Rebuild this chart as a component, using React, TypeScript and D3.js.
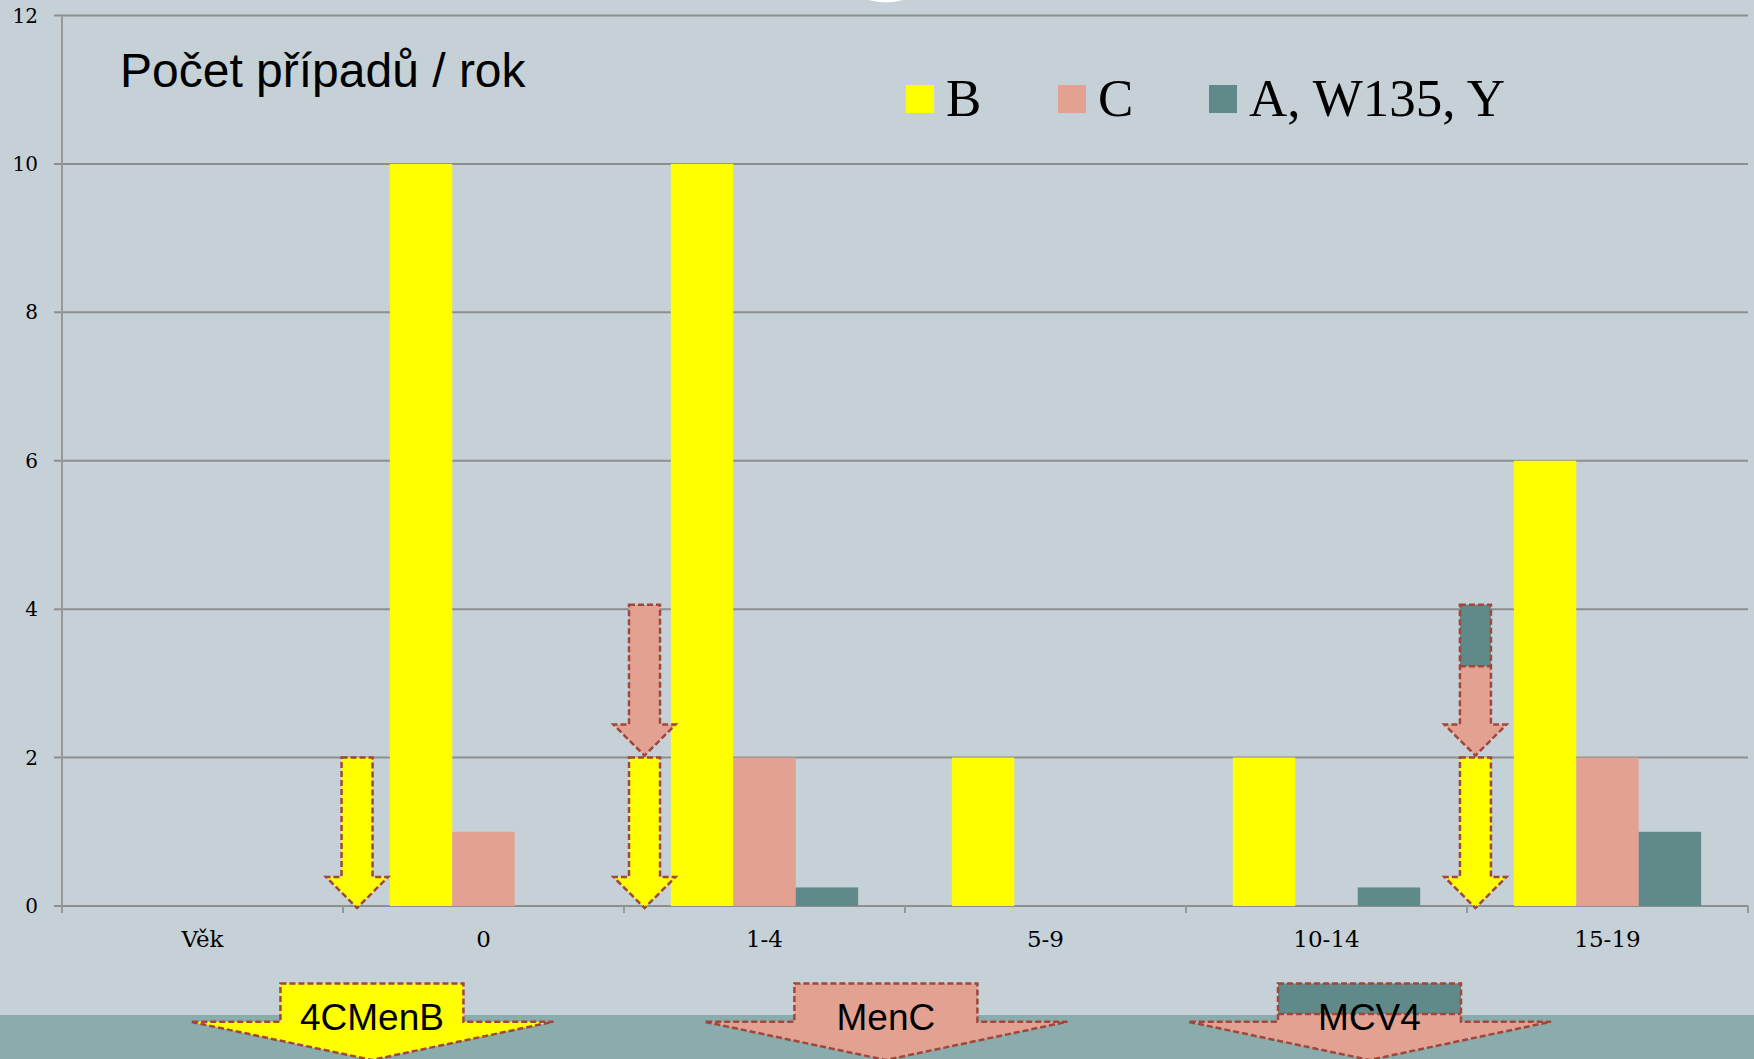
import React from "react";
import * as d3 from "d3";

const categories = ["Věk", "0", "1-4", "5-9", "10-14", "15-19"];
const seriesNames = ["B", "C", "A, W135, Y"];
const valuesB = [0, 10, 10, 2, 2, 6];
const valuesC = [0, 1, 2, 0, 0, 2];
const valuesA = [0, 0, 0.25, 0, 0.25, 1];
const yTicks = [0, 2, 4, 6, 8, 10, 12];
const title = "Počet případů / rok";

// annotation arrows inside plot: position in category units, value range
const plotArrows = [
  { u: 1.05, top: 2, tip: 0, fill: "yellow", split: null as null | number },
  { u: 2.073, top: 2, tip: 0, fill: "yellow", split: null },
  { u: 2.073, top: 4.06, tip: 2, fill: "salmon", split: null },
  { u: 5.03, top: 2, tip: 0, fill: "yellow", split: null },
  { u: 5.03, top: 4.06, tip: 2, fill: "salmon", split: 3.23 },
];

// vaccine arrows below the axis
const vaccineArrows = [
  { u: 1.103, label: "4CMenB", fill: "yellow", teal: false },
  { u: 2.932, label: "MenC", fill: "salmon", teal: false },
  { u: 4.653, label: "MCV4", fill: "salmon", teal: true },
];

const W = 1754;
const H = 1059;
const COLORS: Record<string, string> = {
  yellow: "#FFFF00",
  salmon: "#E3A291",
  teal: "#5F8A89",
};
const seriesColors = [COLORS.yellow, COLORS.salmon, COLORS.teal];
const BG = "#C5D1D7";
const BAND = "#8AACAC";
const GRID = "#8E8E8E";
const DASH = "#A0463A";

function downArrow(cx: number, top: number, tip: number, sw: number, hw: number, hh: number) {
  const hb = tip - hh;
  return `M${cx - sw},${top}L${cx + sw},${top}L${cx + sw},${hb}L${cx + hw},${hb}L${cx},${tip}L${cx - hw},${hb}L${cx - sw},${hb}Z`;
}

export default function App() {
  const left = 62;
  const right = 1748;
  const x0 = d3.scaleBand<string>().domain(categories).range([left, right]).padding(0);
  const x1 = d3
    .scaleBand<string>()
    .domain(seriesNames)
    .range([0, x0.bandwidth()])
    .paddingInner(0)
    .paddingOuter(0.75);
  const y = d3.scaleLinear().domain([0, 12]).range([906, 15.5]);
  const step = x0.step();
  const ux = (u: number) => left + u * step;
  const series = [valuesB, valuesC, valuesA];

  return (
    <svg
      width={W}
      height={H}
      viewBox={`0 0 ${W} ${H}`}
      style={{ position: "absolute", left: 0, top: 0, display: "block" }}
    >
      <rect x={0} y={0} width={W} height={H} fill={BG} />
      <circle cx={886} cy={-59.5} r={62} fill="#FFFFFF" />

      {/* gridlines */}
      {yTicks.map((t) => (
        <line key={t} x1={54} x2={right} y1={y(t)} y2={y(t)} stroke={GRID} strokeWidth={2} />
      ))}
      {/* y axis */}
      <line x1={left} x2={left} y1={y(12)} y2={913} stroke="#989898" strokeWidth={2} />
      {/* x ticks */}
      {[...categories.map((c) => x0(c) as number), right].map((v, i) => (
        <line key={i} x1={v} x2={v} y1={906} y2={913} stroke="#989898" strokeWidth={2} />
      ))}
      {/* y tick labels */}
      {yTicks.map((t) => (
        <text
          key={t}
          x={38}
          y={y(t) + 7}
          textAnchor="end"
          fontFamily="'DejaVu Serif', serif"
          fontSize={20}
          fill="#000"
        >
          {t}
        </text>
      ))}
      {/* x labels */}
      {categories.map((c) => (
        <text
          key={c}
          x={(x0(c) as number) + x0.bandwidth() / 2}
          y={947}
          textAnchor="middle"
          fontFamily="'DejaVu Serif', serif"
          fontSize={23}
          fill="#000"
        >
          {c}
        </text>
      ))}

      {/* bars */}
      {categories.map((c, ci) =>
        seriesNames.map((s, si) => {
          const v = series[si][ci];
          if (!v) return null;
          return (
            <rect
              key={c + s}
              x={(x0(c) as number) + (x1(s) as number)}
              width={x1.bandwidth()}
              y={y(v)}
              height={y(0) - y(v)}
              fill={seriesColors[si]}
            />
          );
        })
      )}

      {/* title */}
      <text x={120} y={87} fontFamily="'Liberation Sans', Arial, sans-serif" fontSize={48} fill="#000">
        {title}
      </text>

      {/* legend */}
      {seriesNames.map((s, i) => {
        const lx = [906, 1058, 1209][i];
        return (
          <g key={s}>
            <rect x={lx} y={85} width={28} height={28} fill={seriesColors[i]} />
            <text
              x={lx + 40}
              y={116}
              fontFamily="'Liberation Serif', 'Times New Roman', serif"
              fontSize={53}
              fill="#000"
            >
              {s}
            </text>
          </g>
        );
      })}

      {/* plot arrows */}
      {plotArrows.map((a, i) => {
        const cx = ux(a.u);
        const top = y(a.top);
        const tip = a.tip === 0 ? y(0) + 2 : y(a.tip) - 2;
        const d = downArrow(cx, top, tip, 15.5, 31, 31);
        return (
          <g key={i}>
            <path d={d} fill={COLORS[a.fill]} />
            {a.split !== null && (
              <rect x={cx - 15.5} y={top} width={31} height={y(a.split) - top} fill={COLORS.teal} />
            )}
            {a.split !== null && (
              <line
                x1={cx - 15.5}
                x2={cx + 15.5}
                y1={y(a.split)}
                y2={y(a.split)}
                stroke={DASH}
                strokeWidth={2.5}
                strokeDasharray="6,3"
              />
            )}
            <path d={d} fill="none" stroke={DASH} strokeWidth={2.5} strokeDasharray="6,3" />
          </g>
        );
      })}

      {/* bottom band */}
      <rect x={0} y={1015} width={W} height={H - 1015} fill={BAND} />

      {/* vaccine arrows */}
      {vaccineArrows.map((a, i) => {
        const cx = ux(a.u);
        const d = downArrow(cx, 983.5, 1060, 91.5, 181.5, 38.3);
        return (
          <g key={i}>
            <path d={d} fill={COLORS[a.fill]} />
            {a.teal && <rect x={cx - 91.5} y={983.5} width={183} height={30.5} fill={COLORS.teal} />}
            {a.teal && (
              <line
                x1={cx - 91.5}
                x2={cx + 91.5}
                y1={1014}
                y2={1014}
                stroke={DASH}
                strokeWidth={2.5}
                strokeDasharray="6,3"
              />
            )}
            <path d={d} fill="none" stroke={DASH} strokeWidth={2.5} strokeDasharray="6,3" />
            <text
              x={cx}
              y={1029.5}
              textAnchor="middle"
              fontFamily="'Liberation Sans', Arial, sans-serif"
              fontSize={37}
              fill="#000"
            >
              {a.label}
            </text>
          </g>
        );
      })}
    </svg>
  );
}
